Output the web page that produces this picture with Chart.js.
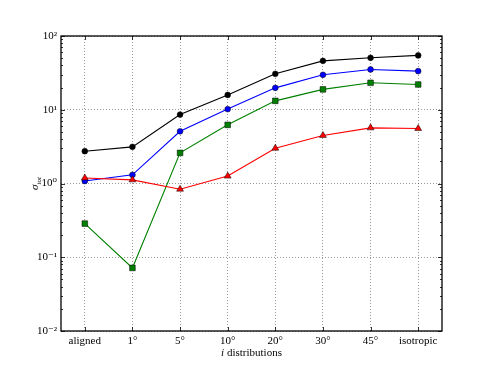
<!DOCTYPE html>
<html>
<head>
<meta charset="utf-8">
<script src="https://cdn.jsdelivr.net/npm/chart.js@4/dist/chart.umd.min.js"></script>
<style>
html,body{margin:0;padding:0;background:#fff;}
#wrap{width:491px;height:368px;}
</style>
</head>
<body>
<div id="wrap"><canvas id="c" width="491" height="368"></canvas></div>
<script>
const categories = ['aligned', '1°', '5°', '10°', '20°', '30°', '45°', 'isotropic'];
const blackSeries = [2.74, 3.14, 8.6, 15.9, 30.7, 46, 50.6, 54.6];
const blueSeries  = [1.08, 1.31, 5.1, 10.2, 19.8, 29.8, 35.2, 33.4];
const greenSeries = [0.286, 0.0716, 2.6, 6.24, 13.2, 18.9, 23.2, 22.0];
const redSeries   = [1.19, 1.12, 0.837, 1.26, 3.01, 4.48, 5.68, 5.57];
const yTickLabels = {'0.01': '10⁻²', '0.1': '10⁻¹', '1': '10⁰', '10': '10¹', '100': '10²'};
const xTitleItalic = 'i';
const xTitleRest = ' distributions';
const yTitleMain = 'σ';
const yTitleSub = 'tot';

const serif = '"Liberation Serif", "DejaVu Serif", serif';

function isDecade(v) {
  const l = Math.log10(v);
  return Math.abs(l - Math.round(l)) < 1e-9;
}

const framePlugin = {
  id: 'frame',
  afterDraw(chart) {
    const {ctx, chartArea: a, scales} = chart;
    const y = scales.y, x = scales.x;
    ctx.save();
    ctx.strokeStyle = '#000';
    y.ticks.forEach(t => {
      const v = t.value;
      const py = Math.round(y.getPixelForValue(v)) + 0.5;
      const len = isDecade(v) ? 4 : 2;
      ctx.lineWidth = 0.8;
      ctx.beginPath();
      ctx.moveTo(a.left, py); ctx.lineTo(a.left + len, py);
      ctx.moveTo(a.right, py); ctx.lineTo(a.right - len, py);
      ctx.stroke();
    });
    categories.forEach((c, i) => {
      const px = Math.round(x.getPixelForValue(i)) + 0.5;
      ctx.lineWidth = 0.8;
      ctx.beginPath();
      ctx.moveTo(px, a.bottom); ctx.lineTo(px, a.bottom - 4);
      ctx.moveTo(px, a.top); ctx.lineTo(px, a.top + 4);
      ctx.stroke();
    });
    ctx.lineWidth = 1.3;
    ctx.strokeRect(a.left, a.top, a.right - a.left, a.bottom - a.top);

    ctx.fillStyle = '#000';
    ctx.textBaseline = 'alphabetic';
    ctx.font = 'italic 11px ' + serif;
    const w1 = ctx.measureText(xTitleItalic).width;
    ctx.font = '11px ' + serif;
    const w2 = ctx.measureText(xTitleRest).width;
    const cx = (a.left + a.right) / 2;
    const sx = cx - (w1 + w2) / 2;
    const by = 356;
    ctx.font = 'italic 11px ' + serif;
    ctx.textAlign = 'left';
    ctx.fillText(xTitleItalic, sx, by);
    ctx.font = '11px ' + serif;
    ctx.fillText(xTitleRest, sx + w1, by);

    ctx.save();
    ctx.translate(38, (a.top + a.bottom) / 2);
    ctx.rotate(-Math.PI / 2);
    ctx.font = 'italic 11px ' + serif;
    const m1 = ctx.measureText(yTitleMain).width;
    ctx.font = 'italic 7px ' + serif;
    const m2 = ctx.measureText(yTitleSub).width;
    const start = -(m1 + m2) / 2;
    ctx.font = 'italic 11px ' + serif;
    ctx.fillText(yTitleMain, start, 0);
    ctx.font = 'italic 7px ' + serif;
    ctx.fillText(yTitleSub, start + m1, 2.5);
    ctx.restore();
    ctx.restore();
  }
};

function ds(label, data, color, style, radius, order) {
  return {
    label, data,
    borderColor: color,
    backgroundColor: color,
    borderWidth: 1.1,
    pointStyle: style,
    pointRadius: radius,
    pointBorderColor: '#000',
    pointBorderWidth: 0.5,
    pointBackgroundColor: color,
    tension: 0,
    fill: false,
    order
  };
}

new Chart(document.getElementById('c'), {
  type: 'line',
  data: {
    labels: categories,
    datasets: [
      ds('black', blackSeries, '#000000', 'circle', 2.9, 3),
      ds('blue', blueSeries, '#0000ff', 'circle', 2.9, 2),
      ds('green', greenSeries, '#008000', 'rect', 4.0, 1),
      ds('red', redSeries, '#ff0000', 'triangle', 4.0, 0)
    ]
  },
  options: {
    responsive: false,
    animation: false,
    devicePixelRatio: 1,
    layout: {padding: {left: 0, right: 49, top: 36, bottom: 0}},
    plugins: {legend: {display: false}, tooltip: {enabled: false}},
    scales: {
      x: {
        type: 'category',
        offset: true,
        grid: {
          offset: false,
          drawTicks: false,
          color: 'rgba(0,0,0,0.4)',
          lineWidth: 1
        },
        border: {display: false, dash: [1, 2]},
        ticks: {
          color: '#000',
          font: {family: serif, size: 11},
          padding: 4,
          maxRotation: 0,
          autoSkip: false
        },
        afterFit(scale) { scale.height = 37; }
      },
      y: {
        type: 'logarithmic',
        min: 0.01,
        max: 100,
        afterBuildTicks(scale) {
          const t = [];
          for (let e = -2; e <= 2; e++) {
            for (let m = 1; m <= 9; m++) {
              const v = m * Math.pow(10, e);
              if (v <= 100 + 1e-9) t.push({value: v});
            }
          }
          scale.ticks = t;
        },
        grid: {
          drawTicks: false,
          color: ctx => (ctx.tick && isDecade(ctx.tick.value)) ? 'rgba(0,0,0,0.4)' : 'rgba(0,0,0,0)',
          lineWidth: 1
        },
        border: {display: false, dash: [1, 2]},
        ticks: {
          color: '#000',
          font: {family: serif, size: 11},
          padding: 4,
          autoSkip: false,
          callback(v) {
            if (!isDecade(v)) return '';
            const key = String(Math.round(Math.log10(v)) >= 0 ? Math.round(v) : v);
            return yTickLabels[key] || '';
          }
        },
        afterFit(scale) { scale.width = 61; }
      }
    }
  },
  plugins: [framePlugin]
});
</script>
</body>
</html>
